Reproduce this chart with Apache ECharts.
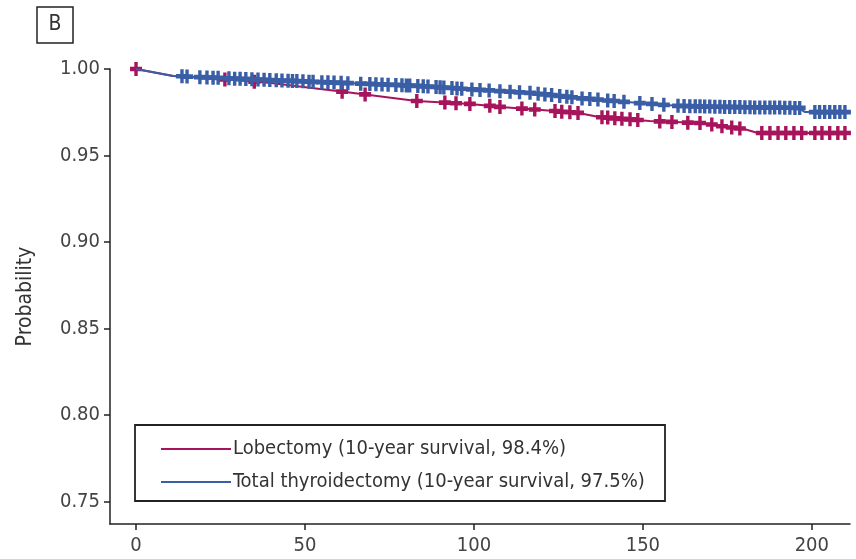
<!DOCTYPE html>
<html>
<head>
<meta charset="utf-8">
<title>Survival B</title>
<script src="https://cdn.jsdelivr.net/npm/echarts@6/dist/echarts.min.js"></script>
<style>
  html, body { margin: 0; padding: 0; background: #fff; }
  #chart { width: 856px; height: 559px; }
</style>
</head>
<body>
<div id="chart"></div>
<script>
  // 图例名称
  const seriesNames = [
    'Lobectomy (10-year survival, 98.4%)',
    'Total thyroidectomy (10-year survival, 97.5%)'
  ]

  // 坐标轴刻度
  const xTicks = [0, 50, 100, 150, 200]
  const yTicks = [0.75, 0.80, 0.85, 0.90, 0.95, 1.00]

  // 生存曲线 [月, 概率]
  const lobectomyCurve = [
    [0, 1.000], [11, 0.996], [25, 0.9942], [40, 0.9919], [52, 0.9890],
    [62, 0.9867], [69, 0.9850], [83, 0.9815], [99, 0.9798], [108, 0.9780],
    [120, 0.9763], [131, 0.9746], [137, 0.9723], [152, 0.9700], [167, 0.9688],
    [173, 0.9670], [180, 0.9653], [184, 0.9630], [211, 0.9630]
  ]
  const totalCurve = [
    [0, 1.000], [11, 0.996], [25, 0.9948], [54, 0.9925], [70, 0.9913],
    [84, 0.9902], [102, 0.9879], [117, 0.9861], [131, 0.9832], [149, 0.9803],
    [161, 0.9786], [196, 0.9775], [198, 0.9751], [211, 0.9751]
  ]

  // 删失标记 [月, 概率]
  const lobectomyCensored = [
    [0, 1.000], [26.3, 0.9940], [35, 0.9927], [61, 0.9869], [67.8, 0.9853],
    [83.1, 0.9815], [91.4, 0.9806], [94.7, 0.9802], [98.8, 0.9798], [104.7, 0.9787],
    [107.7, 0.9781], [114.2, 0.9771], [118, 0.9766], [124, 0.9757], [126, 0.9753],
    [128.4, 0.9750], [130.8, 0.9746], [137.9, 0.9721], [139.6, 0.9719], [141.7, 0.9715],
    [143.8, 0.9712], [146.2, 0.9709], [148.5, 0.9705], [155, 0.9697], [158.6, 0.9694],
    [163.3, 0.9690], [166.9, 0.9688], [170.4, 0.9679], [173.4, 0.9669], [176.3, 0.9662],
    [178.7, 0.9656], [185.2, 0.9630], [187.6, 0.9630], [190, 0.9630], [192.3, 0.9630],
    [194.7, 0.9630], [197, 0.9630], [200.9, 0.9630], [203, 0.9630], [205.3, 0.9630],
    [207.7, 0.9630], [209.8, 0.9630]
  ]
  const totalCensored = [
    [13.6, 0.9958], [15.1, 0.9956], [18.9, 0.9953], [21.0, 0.9951], [22.8, 0.9950],
    [24.3, 0.9949], [27.5, 0.9946], [29.2, 0.9944], [30.8, 0.9943], [32.5, 0.9942],
    [34.3, 0.9941], [36.1, 0.9939], [37.9, 0.9938], [39.6, 0.9936], [41.5, 0.9935],
    [43.2, 0.9933], [45.0, 0.9932], [46.3, 0.9931], [47.6, 0.9930], [49.4, 0.9929],
    [51.2, 0.9927], [52.4, 0.9926], [55.0, 0.9924], [56.8, 0.9923], [58.6, 0.9922],
    [60.7, 0.9920], [62.7, 0.9918], [66.5, 0.9915], [69.2, 0.9914], [71.0, 0.9912],
    [72.8, 0.9911], [74.6, 0.9909], [76.9, 0.9908], [78.7, 0.9906], [80.0, 0.9905],
    [81.0, 0.9904], [83.4, 0.9902], [85.0, 0.9900], [86.4, 0.9899], [88.8, 0.9896],
    [90.0, 0.9894], [91.1, 0.9893], [93.5, 0.9890], [95.0, 0.9888], [96.4, 0.9886],
    [99.4, 0.9882], [101.8, 0.9879], [104.5, 0.9876], [107.7, 0.9872], [110.7, 0.9869],
    [113.5, 0.9865], [116.6, 0.9862], [119.0, 0.9857], [121.0, 0.9853], [123.0, 0.9849],
    [125.4, 0.9844], [127.5, 0.9840], [129.0, 0.9836], [132.0, 0.9830], [134.3, 0.9827],
    [136.7, 0.9823], [139.6, 0.9818], [141.5, 0.9815], [144.4, 0.9810], [149.1, 0.9803],
    [152.7, 0.9798], [156.2, 0.9793], [160.4, 0.9787], [162.2, 0.9786], [163.9, 0.9785],
    [165.5, 0.9784], [166.9, 0.9784], [168.3, 0.9783], [169.8, 0.9783], [171.3, 0.9782],
    [172.8, 0.9782], [174.2, 0.9781], [175.7, 0.9781], [177.2, 0.9780], [178.7, 0.9780],
    [180.2, 0.9779], [181.7, 0.9779], [183.1, 0.9778], [184.6, 0.9778], [186.1, 0.9777],
    [187.6, 0.9777], [189.0, 0.9777], [190.5, 0.9777], [192.0, 0.9776], [193.5, 0.9776],
    [195.0, 0.9775], [196.4, 0.9775], [200.9, 0.9751], [202.3, 0.9751], [203.8, 0.9751],
    [205.3, 0.9751], [206.8, 0.9751], [208.3, 0.9751], [209.8, 0.9751]
  ]

  const lobColor = '#a8145c'
  const totColor = '#3a5ea6'
  const font = "'Liberation Sans Narrow', 'DejaVu Sans Condensed', sans-serif"
  // 十字形删失标记
  const plus = 'path://M4.3,0H7.7V4H12V8H7.7V12H4.3V8H0V4H4.3Z'

  let chart = echarts.init(document.getElementById('chart'))

  chart.setOption({
    animation: false,
    grid: {
      left: 110,
      right: 6,
      top: 69,
      bottom: 35
    },
    legend: {
      data: seriesNames,
      orient: 'vertical',
      left: 156,
      top: 434,
      icon: 'rect',
      itemWidth: 70,
      itemHeight: 2,
      itemGap: 13,
      textStyle: {
        fontFamily: font,
        fontSize: 20,
        color: '#333',
        padding: [0, 0, 0, -3]
      }
    },
    xAxis: {
      type: 'value',
      min: -7.7,
      max: 211.3,
      splitLine: { show: false },
      axisLine: { onZero: false, lineStyle: { color: '#222', width: 1.5 } },
      axisTick: { customValues: xTicks, length: 6, lineStyle: { color: '#222', width: 1.5 } },
      axisLabel: {
        customValues: xTicks,
        margin: 12,
        fontFamily: font,
        fontSize: 20,
        color: '#444'
      }
    },
    yAxis: {
      type: 'value',
      min: 0.737,
      max: 1.0,
      name: 'Probability',
      nameLocation: 'middle',
      nameGap: 74,
      nameTextStyle: { fontFamily: font, fontSize: 21, color: '#333' },
      splitLine: { show: false },
      axisLine: { show: true, onZero: false, lineStyle: { color: '#222', width: 1.5 } },
      axisTick: { show: true, customValues: yTicks, length: 6, lineStyle: { color: '#222', width: 1.5 } },
      axisLabel: {
        customValues: yTicks,
        margin: 10,
        fontFamily: font,
        fontSize: 20,
        color: '#444',
        formatter: v => v.toFixed(2)
      }
    },
    graphic: [
      // 图例边框
      {
        type: 'rect',
        shape: { x: 135, y: 425, width: 530, height: 76 },
        style: { fill: 'none', stroke: '#222', lineWidth: 1.8 },
        z: 10
      },
      // 面板标签 B
      {
        type: 'rect',
        shape: { x: 37, y: 7, width: 36, height: 36 },
        style: { fill: '#fff', stroke: '#222', lineWidth: 1.5 }
      },
      {
        type: 'text',
        x: 55,
        y: 25,
        style: {
          text: 'B',
          fontFamily: font,
          fontSize: 21,
          fill: '#333',
          align: 'center',
          verticalAlign: 'middle'
        }
      }
    ],
    series: [
      {
        name: seriesNames[0],
        type: 'line',
        data: lobectomyCurve,
        showSymbol: false,
        itemStyle: { color: lobColor },
        lineStyle: { color: lobColor, width: 2 },
        z: 2
      },
      {
        name: seriesNames[0] + ' censored',
        type: 'scatter',
        data: lobectomyCensored,
        symbol: plus,
        symbolSize: [12, 14],
        itemStyle: { color: lobColor, opacity: 1 },
        z: 3
      },
      {
        name: seriesNames[1],
        type: 'line',
        data: totalCurve,
        showSymbol: false,
        itemStyle: { color: totColor },
        lineStyle: { color: totColor, width: 2 },
        z: 4
      },
      {
        name: seriesNames[1] + ' censored',
        type: 'scatter',
        data: totalCensored,
        symbol: plus,
        symbolSize: [12, 14],
        itemStyle: { color: totColor, opacity: 1 },
        z: 5
      }
    ]
  })
</script>
</body>
</html>
